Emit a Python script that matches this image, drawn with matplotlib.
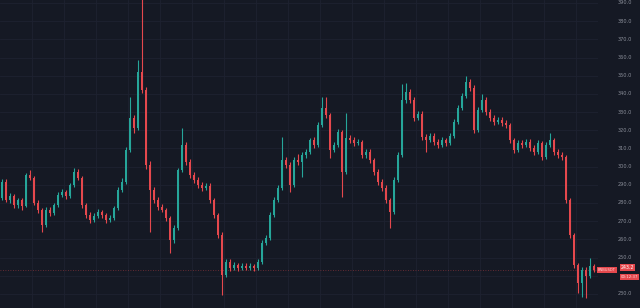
import matplotlib

matplotlib.use("Agg")
import matplotlib.pyplot as plt
import numpy as np

BG_COLOR = "#151924"
GRID_COLOR = "#1e2230"
UP_COLOR = "#26a69a"
DOWN_COLOR = "#e5484d"
TEXT_COLOR = "#8a8e99"

opens = [
    282.7, 291.6, 281.7, 283.8, 278.9, 281.7, 278.4, 295.4, 293.8, 280.0,
    276.2, 267.9, 276.2, 274.5, 278.9, 284.4, 286.1, 283.8, 289.9, 297.1,
    293.8, 278.9, 273.4, 270.7, 272.9, 275.1, 273.4, 270.7, 271.8, 277.3,
    287.2, 291.6, 309.2, 326.8, 321.3, 352.1, 342.2, 300.9, 287.2, 281.7,
    277.8, 276.2, 271.8, 259.7, 266.3, 298.2, 311.9, 302.6, 295.4, 292.7,
    289.9, 288.3, 289.4, 281.7, 273.4, 262.4, 240.4, 247.6, 244.3, 245.9,
    244.3, 245.4, 244.3, 245.4, 244.3, 247.6, 258.0, 260.8, 273.4, 281.7,
    288.3, 303.7, 300.9, 289.9, 303.7, 302.6, 306.4, 308.1, 314.7, 311.9,
    322.9, 332.3, 328.4, 309.2, 311.9, 319.1, 297.1, 315.8, 314.7, 313.0,
    313.6, 306.4, 308.1, 303.7, 297.1, 291.6, 288.3, 281.7, 275.1, 292.7,
    306.4, 336.7, 341.1, 336.7, 326.8, 329.0, 316.3, 314.7, 316.9, 313.6,
    311.9, 314.7, 313.0, 316.9, 324.6, 332.3, 338.9, 346.6, 343.3, 320.2,
    331.2, 336.7, 330.1, 326.8, 324.6, 325.7, 324.0, 322.9, 314.7, 309.2,
    313.0, 311.9, 313.6, 310.3, 308.1, 313.0, 305.3, 311.9, 314.7, 308.1,
    306.4, 305.3, 281.7, 262.4, 245.9, 236.0, 243.2, 239.9, 245.4,
]
closes = [
    291.6, 281.7, 283.8, 278.9, 281.7, 278.4, 295.4, 293.8, 280.0, 276.2,
    267.9, 276.2, 274.5, 278.9, 284.4, 286.1, 283.8, 289.9, 297.1, 293.8,
    278.9, 273.4, 270.7, 272.9, 275.1, 273.4, 270.7, 271.8, 277.3, 287.2,
    291.6, 309.2, 326.8, 321.3, 352.1, 342.2, 300.9, 287.2, 281.7, 277.8,
    276.2, 271.8, 259.7, 266.3, 298.2, 311.9, 302.6, 295.4, 292.7, 289.9,
    288.3, 289.4, 281.7, 273.4, 262.4, 240.4, 247.6, 244.3, 245.9, 244.3,
    245.4, 244.3, 245.4, 244.3, 247.6, 258.0, 260.8, 273.4, 281.7, 288.3,
    303.7, 300.9, 289.9, 303.7, 302.6, 306.4, 308.1, 314.7, 311.9, 322.9,
    332.3, 328.4, 309.2, 311.9, 319.1, 297.1, 315.8, 314.7, 313.0, 313.6,
    306.4, 308.1, 303.7, 297.1, 291.6, 288.3, 281.7, 275.1, 292.7, 306.4,
    336.7, 341.1, 336.7, 326.8, 329.0, 316.3, 314.7, 316.9, 313.6, 311.9,
    314.7, 313.0, 316.9, 324.6, 332.3, 338.9, 346.6, 343.3, 320.2, 331.2,
    336.7, 330.1, 326.8, 324.6, 325.7, 324.0, 322.9, 314.7, 309.2, 313.0,
    311.9, 313.6, 310.3, 308.1, 313.0, 305.3, 311.9, 314.7, 308.1, 306.4,
    305.3, 281.7, 262.4, 245.9, 236.0, 243.2, 239.9, 245.4, 243.2,
]
highs = [
    293.0, 293.2, 285.6, 285.0, 283.0, 282.9, 296.5, 298.2, 294.6, 281.5,
    277.4, 277.6, 278.0, 280.2, 285.8, 287.9, 287.3, 291.2, 299.2, 298.5,
    294.9, 280.1, 274.8, 274.3, 276.6, 276.3, 274.5, 273.4, 278.6, 288.6,
    293.7, 310.6, 338.3, 328.2, 358.7, 395.0, 343.6, 303.2, 289.0, 283.1,
    279.4, 277.5, 273.0, 267.8, 299.5, 321.2, 313.4, 304.0, 296.9, 294.2,
    291.4, 291.0, 290.8, 283.0, 274.6, 263.8, 249.3, 249.0, 247.5, 247.2,
    246.9, 246.8, 247.0, 246.6, 249.0, 259.4, 262.5, 274.8, 283.2, 289.9,
    316.3, 305.2, 302.3, 305.3, 306.8, 308.2, 309.9, 316.0, 316.1, 324.3,
    338.3, 338.3, 329.7, 313.6, 320.6, 320.4, 329.5, 317.4, 316.2, 315.3,
    314.9, 309.8, 309.5, 305.0, 298.5, 293.0, 289.7, 283.0, 294.1, 307.9,
    345.4, 346.0, 342.8, 338.1, 330.8, 330.4, 317.9, 318.5, 318.3, 315.1,
    316.2, 316.0, 318.4, 326.0, 333.8, 340.3, 349.9, 348.2, 344.7, 332.6,
    340.0, 338.1, 331.6, 328.3, 327.3, 327.1, 325.5, 324.2, 316.0, 314.5,
    314.6, 315.2, 315.0, 311.8, 314.6, 314.3, 313.4, 318.5, 316.0, 309.6,
    307.9, 306.6, 283.0, 263.7, 247.2, 244.8, 245.0, 249.7, 246.5,
]
lows = [
    281.5, 280.3, 280.0, 277.2, 277.5, 276.0, 277.6, 292.5, 278.8, 274.6,
    264.0, 266.8, 273.0, 273.6, 277.9, 283.2, 282.4, 282.9, 288.7, 292.6,
    277.5, 271.6, 269.0, 269.5, 271.8, 272.0, 269.1, 269.6, 270.9, 276.4,
    285.8, 290.4, 308.0, 318.5, 320.2, 340.5, 298.7, 264.0, 279.8, 276.1,
    274.8, 270.2, 252.5, 258.1, 265.2, 297.0, 300.9, 293.6, 291.0, 288.1,
    286.8, 287.0, 280.1, 271.8, 260.5, 229.4, 239.3, 242.8, 243.0, 242.6,
    243.1, 242.9, 243.0, 242.7, 243.2, 246.5, 256.9, 259.7, 272.2, 280.6,
    287.2, 299.4, 286.0, 288.8, 301.0, 294.3, 305.0, 306.9, 310.2, 310.8,
    321.8, 326.9, 304.7, 307.9, 310.7, 283.3, 296.0, 313.1, 311.4, 311.8,
    304.8, 305.0, 302.1, 295.4, 290.0, 286.6, 280.0, 266.3, 274.0, 291.5,
    305.3, 335.2, 335.0, 325.1, 325.6, 314.6, 308.1, 313.5, 312.0, 310.3,
    310.7, 311.5, 311.8, 315.7, 323.4, 331.1, 337.8, 341.7, 318.5, 319.1,
    330.0, 328.5, 325.2, 323.0, 323.4, 322.5, 321.3, 313.1, 307.6, 308.0,
    310.3, 310.6, 308.8, 306.5, 307.0, 303.6, 304.2, 310.8, 306.6, 304.9,
    303.8, 280.0, 260.6, 244.0, 230.5, 228.3, 227.8, 238.6, 242.1,
]
price_ticks = [230, 240, 250, 260, 270, 280, 290, 300, 310, 320, 330, 340, 350, 360, 370, 380, 390]
symbol_tag = "BNBUSDT"
countdown = "00:12:37"

o = np.array(opens)
c = np.array(closes)
h = np.array(highs)
lo = np.array(lows)
x = np.arange(len(c))
up = c >= o
colors = np.where(up, UP_COLOR, DOWN_COLOR)

fig = plt.figure(figsize=(6.4, 3.08), dpi=100, facecolor=BG_COLOR)
ax = fig.add_axes([0, 0, 598 / 640, 1])
ax.set_facecolor(BG_COLOR)

ax.vlines(x, lo, h, colors=colors, linewidth=0.8, zorder=2)
body_h = np.maximum(np.abs(c - o), 0.4)
ax.bar(x, body_h, bottom=np.minimum(o, c), width=0.62, color=colors, linewidth=0, zorder=3)

ax.set_xlim(-0.5, len(c))
ax.set_ylim(222.25, 391.65)

for v in price_ticks:
    ax.axhline(v, color=GRID_COLOR, linewidth=0.6, zorder=0)
for gx in np.arange(7.5, len(c), 8):
    ax.axvline(gx, color=GRID_COLOR, linewidth=0.6, zorder=0)

# last price line
last = c[-1]
ax.axhline(last, color=DOWN_COLOR, linewidth=0.6, linestyle=(0, (1, 2)), alpha=0.5, zorder=1)

for sp in ax.spines.values():
    sp.set_visible(False)
ax.set_xticks([])
ax.set_yticks([])

# right price scale (the label under the last-price tag is hidden, as on the chart)
tr = ax.get_yaxis_transform()
for v in price_ticks:
    if abs(v - last) < 5:
        continue
    ax.text(1.045, v, f"{v:.1f}", transform=tr, ha="center", va="center",
            fontsize=3.6, color=TEXT_COLOR, clip_on=False)

ax.text(1.0, last, symbol_tag, transform=tr, ha="left", va="center",
        fontsize=2.6, color="#ffd6d6", clip_on=False,
        bbox=dict(boxstyle="square,pad=0.35", fc=DOWN_COLOR, ec="none"))
ax.text(1.038, last + 1.2, f"{last:.1f}", transform=tr, ha="left", va="center",
        fontsize=3.4, color="white", clip_on=False,
        bbox=dict(boxstyle="square,pad=0.25", fc=DOWN_COLOR, ec="none"))
ax.text(1.038, last - 4.0, countdown, transform=tr, ha="left", va="center",
        fontsize=2.8, color="#ffe0e0", clip_on=False,
        bbox=dict(boxstyle="square,pad=0.2", fc=DOWN_COLOR, ec="none"))

fig.savefig("out.png", dpi=100, facecolor=BG_COLOR)
